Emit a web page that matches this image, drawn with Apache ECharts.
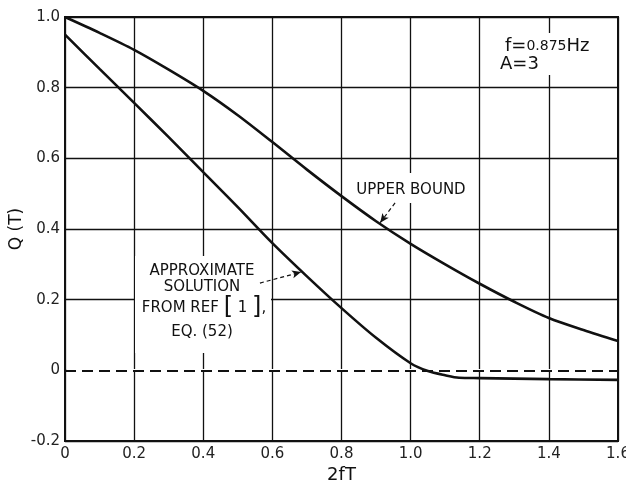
<!DOCTYPE html>
<html>
<head>
<meta charset="utf-8">
<script src="https://cdn.jsdelivr.net/npm/echarts@6/dist/echarts.min.js"></script>
<style>
  html, body { margin: 0; padding: 0; background: #fff; }
  #chart { width: 626px; height: 482px; }
</style>
</head>
<body>
<div id="chart"></div>
<script>
// values
let xTicks = [0, 0.2, 0.4, 0.6, 0.8, 1.0, 1.2, 1.4, 1.6];
let yTicks = [-0.2, 0, 0.2, 0.4, 0.6, 0.8, 1.0];

let upperX = [0, 0.1, 0.2, 0.3, 0.4, 0.5, 0.6, 0.7, 0.8, 0.9, 1.0, 1.1, 1.2, 1.3, 1.4, 1.5, 1.6];
let upperY = [1.0, 0.955, 0.907, 0.851, 0.791, 0.722, 0.646, 0.568, 0.493, 0.422, 0.358, 0.3, 0.245, 0.194, 0.148, 0.114, 0.083];

let approxX = [0, 0.1, 0.2, 0.3, 0.4, 0.5, 0.6, 0.7, 0.8, 0.9, 1.0, 1.05, 1.1, 1.14, 1.2, 1.4, 1.6];
let approxY = [0.95, 0.853, 0.757, 0.66, 0.561, 0.462, 0.36, 0.266, 0.176, 0.092, 0.02, -0.002, -0.014, -0.021, -0.022, -0.025, -0.027];

let ink = '#111';
let font = 'DejaVu Sans';

let pairs = (xs, ys) => xs.map((x, i) => [x, ys[i]]);

let option = {
    animation: false,
    backgroundColor: '#fff',
    grid: {
        left: 65, right: 8, top: 17, bottom: 41,
        outerBoundsMode: 'none',
        containLabel: false,
        show: true,
        borderColor: ink,
        borderWidth: 2,
        backgroundColor: 'transparent'
    },
    xAxis: {
        type: 'value',
        min: xTicks[0],
        max: xTicks[xTicks.length - 1],
        interval: 0.2,
        name: '2fT',
        nameLocation: 'middle',
        nameGap: 25,
        nameMoveOverlap: false,
        nameTextStyle: { fontFamily: font, fontSize: 18, color: ink },
        axisLine: { show: true, onZero: false, lineStyle: { color: ink, width: 2 } },
        axisTick: { show: false },
        axisLabel: {
            fontFamily: font, fontSize: 15, color: '#222', margin: 6,
            formatter: v => v === 0 ? '0' : v.toFixed(1)
        },
        splitLine: { show: true, lineStyle: { color: ink, width: 1.3 } }
    },
    yAxis: {
        type: 'value',
        min: yTicks[0],
        max: yTicks[yTicks.length - 1],
        interval: 0.2,
        name: 'Q (T)',
        nameLocation: 'middle',
        nameRotate: 90,
        nameGap: 40,
        nameMoveOverlap: false,
        nameTextStyle: { fontFamily: font, fontSize: 17, color: ink },
        axisLine: { show: true, onZero: false, lineStyle: { color: ink, width: 2 } },
        axisTick: { show: false },
        axisLabel: {
            fontFamily: font, fontSize: 15, color: '#222', margin: 5,
            formatter: v => Math.abs(v) < 1e-9 ? '0' : v.toFixed(1)
        },
        splitLine: { show: true, lineStyle: { color: ink, width: 1.3 } }
    },
    series: [
        {
            name: 'upper bound',
            type: 'line',
            data: pairs(upperX, upperY),
            smooth: 0.3,
            showSymbol: false,
            lineStyle: { color: ink, width: 2.6 },
            z: 5
        },
        {
            name: 'approximate solution',
            type: 'line',
            data: pairs(approxX, approxY),
            smooth: 0.3,
            showSymbol: false,
            lineStyle: { color: ink, width: 2.6 },
            z: 5,
            markLine: {
                silent: true,
                animation: false,
                label: { show: false },
                data: [
                    // white strip hides the solid grid line under the dashed zero line
                    [
                        { coord: [0.005, 0], symbol: 'none', lineStyle: { type: 'solid', width: 3, color: '#fff' } },
                        { coord: [1.597, 0], symbol: 'none' }
                    ],
                    [
                        { coord: [0, 0], symbol: 'none' },
                        { coord: [1.6, 0], symbol: 'none' }
                    ],
                    [
                        { coord: [0.564, 0.247], symbol: 'none', lineStyle: { type: [4, 3], width: 1.2, color: ink } },
                        { coord: [0.683, 0.278], symbol: 'arrow', symbolSize: [6, 9] }
                    ],
                    [
                        { coord: [0.955, 0.474], symbol: 'none', lineStyle: { type: [4, 3], width: 1.2, color: ink } },
                        { coord: [0.912, 0.418], symbol: 'arrow', symbolSize: [6, 9] }
                    ]
                ],
                lineStyle: { color: ink, width: 2, type: [11, 6] }
            }
        }
    ],
    graphic: [
        // white patches behind the notes (break the grid lines like the original)
        { type: 'rect', shape: { x: 135, y: 256, width: 136, height: 97 }, style: { fill: '#fff' }, z: 1 },
        { type: 'rect', shape: { x: 352, y: 173, width: 118, height: 30 }, style: { fill: '#fff' }, z: 1 },
        { type: 'rect', shape: { x: 496, y: 33, width: 106, height: 42 }, style: { fill: '#fff' }, z: 1 },
        {
            type: 'text', x: 202, y: 271, z: 10,
            style: { text: 'APPROXIMATE', font: '15px ' + font, fill: ink, align: 'center', verticalAlign: 'middle' }
        },
        {
            type: 'text', x: 202, y: 287, z: 10,
            style: { text: 'SOLUTION', font: '15px ' + font, fill: ink, align: 'center', verticalAlign: 'middle' }
        },
        {
            type: 'text', x: 204, y: 308, z: 10,
            style: {
                text: '{t|FROM REF }{b|[}{t| 1 }{b|]}{t|,}',
                align: 'center', verticalAlign: 'middle',
                rich: {
                    t: { font: '15px ' + font, fill: ink },
                    b: { font: '24px ' + font, fill: ink }
                }
            }
        },
        {
            type: 'text', x: 202, y: 332, z: 10,
            style: { text: 'EQ. (52)', font: '15px ' + font, fill: ink, align: 'center', verticalAlign: 'middle' }
        },
        {
            type: 'text', x: 411, y: 190, z: 10,
            style: { text: 'UPPER BOUND', font: '15px ' + font, fill: ink, align: 'center', verticalAlign: 'middle' }
        },
        {
            type: 'text', x: 505, y: 46, z: 10,
            style: {
                text: '{a|f=}{s|0.875}{a|Hz}',
                align: 'left', verticalAlign: 'middle',
                rich: {
                    a: { font: '18px ' + font, fill: ink },
                    s: { font: '14px ' + font, fill: ink }
                }
            }
        },
        {
            type: 'text', x: 500, y: 64, z: 10,
            style: { text: 'A=3', font: '18px ' + font, fill: ink, align: 'left', verticalAlign: 'middle' }
        }
    ]
};

let myChart = echarts.init(document.getElementById('chart'), null, { renderer: 'canvas' });
myChart.setOption(option);
</script>
</body>
</html>
